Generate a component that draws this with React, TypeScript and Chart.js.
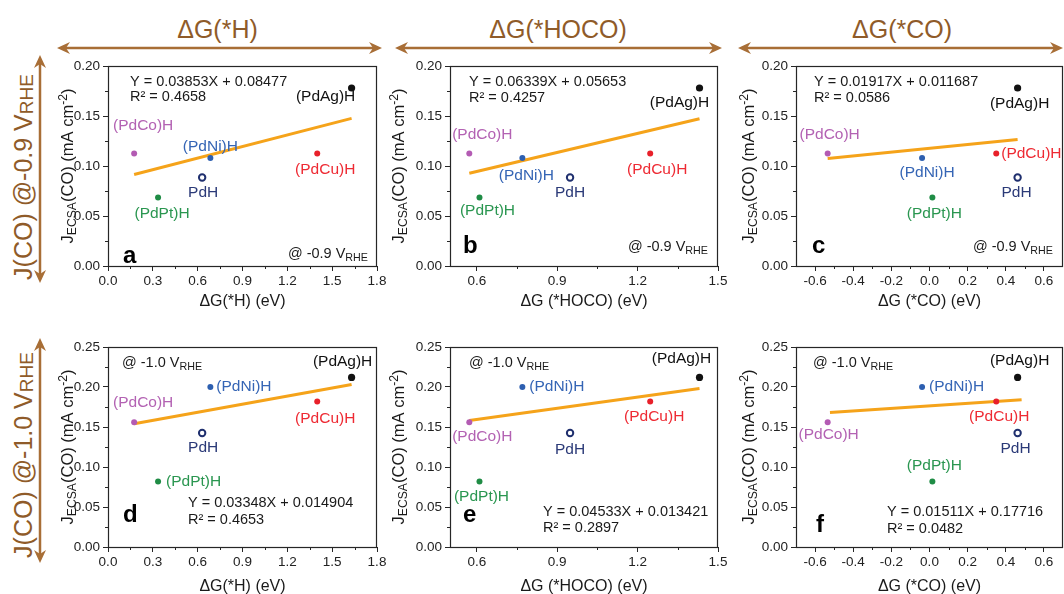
import React, { useEffect, useRef } from "react";
import { Chart, registerables } from "chart.js";
Chart.register(...registerables);

// ---------------- DATA ----------------
const catalysts = ["(PdAg)H", "(PdCo)H", "(PdNi)H", "PdH", "(PdPt)H", "(PdCu)H"];
const dGH = [1.63, 0.175, 0.685, 0.63, 0.335, 1.4];
const dGHOCO = [1.431, 0.572, 0.77, 0.948, 0.61, 1.247];
const dGCO = [0.462, -0.534, -0.039, 0.462, 0.015, 0.35];
const jCO_09 = [0.178, 0.1125, 0.108, 0.0885, 0.0685, 0.1125];
const jCO_10 = [0.212, 0.156, 0.2, 0.1425, 0.082, 0.182];

const fitA_x = [0.175, 1.63];
const fitA_y = [0.0915, 0.1476];
const fitB_x = [0.572, 1.431];
const fitB_y = [0.0928, 0.1472];
const fitC_x = [-0.534, 0.462];
const fitC_y = [0.1075, 0.1265];
const fitD_x = [0.175, 1.63];
const fitD_y = [0.154, 0.203];
const fitE_x = [0.572, 1.431];
const fitE_y = [0.158, 0.198];
const fitF_x = [-0.522, 0.483];
const fitF_y = [0.168, 0.184];

const ticksH = [0, 0.3, 0.6, 0.9, 1.2, 1.5, 1.8];
const minorH = [0.15, 0.45, 0.75, 1.05, 1.35, 1.65];
const ticksHOCO = [0.6, 0.9, 1.2, 1.5];
const minorHOCO = [0.75, 1.05, 1.35];
const ticksCO = [-0.6, -0.4, -0.2, 0, 0.2, 0.4, 0.6];
const minorCO = [-0.5, -0.3, -0.1, 0.1, 0.3, 0.5];
const ticksJ09 = [0, 0.05, 0.1, 0.15, 0.2];
const minorJ09 = [0.025, 0.075, 0.125, 0.175];
const ticksJ10 = [0, 0.05, 0.1, 0.15, 0.2, 0.25];
const minorJ10 = [0.025, 0.075, 0.125, 0.175, 0.225];

const eqA = ["Y = 0.03853X + 0.08477", "R² = 0.4658"];
const eqB = ["Y = 0.06339X + 0.05653", "R² = 0.4257"];
const eqC = ["Y = 0.01917X + 0.011687", "R² = 0.0586"];
const eqD = ["Y = 0.03348X + 0.014904", "R² = 0.4653"];
const eqE = ["Y = 0.04533X + 0.013421", "R² = 0.2897"];
const eqF = ["Y = 0.01511X + 0.17716", "R² = 0.0482"];

const headers = ["ΔG(*H)", "ΔG(*HOCO)", "ΔG(*CO)"];
const xTitles = ["ΔG(*H) (eV)", "ΔG (*HOCO) (eV)", "ΔG (*CO) (eV)"];

// ---------------- STYLE ----------------
const FONT = '"Liberation Sans", Arial, Helvetica, sans-serif';
const AXIS = "#262626";
const BROWN_T = "#8f5b29";
const BROWN_A = "#a86e36";
const FIT = "#f5a31a";
const pointColors = ["#111111", "#b35bb3", "#2d5fb0", "#1f2f6e", "#1f8c45", "#e8202a"];
const labelColors = ["#111111", "#b362b3", "#3565b5", "#2b3a78", "#2a9650", "#ee2a33"];

const PAD_L = 100, PAD_T = 20, PAD_R = 16, PAD_B = 50;

type Seg = { t: string; k?: "sub" | "sup" };
function drawRich(ctx: CanvasRenderingContext2D, segs: Seg[], x: number, y: number, size: number, align: string, color: string) {
  const sub = size * 0.74;
  const widths = segs.map((s) => {
    ctx.font = `${s.k ? sub : size}px ${FONT}`;
    return ctx.measureText(s.t).width;
  });
  const total = widths.reduce((a, b) => a + b, 0);
  let cx = align === "left" ? x : align === "right" ? x - total : x - total / 2;
  const base = y + size * 0.35;
  ctx.fillStyle = color;
  ctx.textAlign = "left";
  ctx.textBaseline = "alphabetic";
  segs.forEach((s, i) => {
    ctx.font = `${s.k ? sub : size}px ${FONT}`;
    const dy = s.k === "sub" ? size * 0.22 : s.k === "sup" ? -size * 0.38 : 0;
    ctx.fillText(s.t, cx, base + dy);
    cx += widths[i];
  });
}

type Lbl = [number, number, string?];
type PanelCfg = {
  left: number; top: number; w: number; h: number;
  xs: number[]; ys: number[]; fitX: number[]; fitY: number[];
  xMin: number; xMax: number; yMax: number;
  xTicks: number[]; xMinor: number[]; yTicks: number[]; yMinor: number[];
  xTitle: string; xTitleDy: number; yTitleDx: number;
  letter: string; letterPos: [number, number];
  eq: string[]; eqPos: [number, number, number]; eqFromBottom: boolean;
  vText: string; vPos: [number, number]; vFromTopLeft: boolean;
  labels: Lbl[];
};

function Panel({ cfg }: { cfg: PanelCfg }) {
  const ref = useRef<HTMLCanvasElement>(null);
  const W = cfg.w + PAD_L + PAD_R;
  const H = cfg.h + PAD_T + PAD_B;
  useEffect(() => {
    const datasets: any[] = catalysts.map((name, i) => ({
      label: name,
      data: [{ x: cfg.xs[i], y: cfg.ys[i] }],
      backgroundColor: i === 3 ? "#ffffff" : pointColors[i],
      borderColor: pointColors[i],
      borderWidth: i === 3 ? 2 : 0,
      pointRadius: i === 0 ? 3.6 : i === 3 ? 3.2 : 3,
      order: 0,
    }));
    datasets.push({
      type: "line",
      label: "fit",
      data: cfg.fitX.map((x, i) => ({ x, y: cfg.fitY[i] })),
      borderColor: FIT,
      borderWidth: 3,
      pointRadius: 0,
      showLine: true,
      fill: false,
      order: 1,
    });
    const annot = {
      id: "annot",
      afterDatasetsDraw(chart: any) {
        const ctx: CanvasRenderingContext2D = chart.ctx;
        const ca = chart.chartArea;
        const sx = chart.scales.x, sy = chart.scales.y;
        ctx.save();
        ctx.strokeStyle = AXIS;
        ctx.lineWidth = 1.2;
        ctx.strokeRect(Math.round(ca.left) + 0.5, Math.round(ca.top) + 0.5, Math.round(ca.right - ca.left) - 1, Math.round(ca.bottom - ca.top));
        ctx.lineWidth = 1;
        ctx.beginPath();
        cfg.xMinor.forEach((v) => {
          const p = Math.round(sx.getPixelForValue(v)) + 0.5;
          ctx.moveTo(p, ca.bottom);
          ctx.lineTo(p, ca.bottom + 3);
        });
        cfg.yMinor.forEach((v) => {
          const p = Math.round(sy.getPixelForValue(v)) + 0.5;
          ctx.moveTo(ca.left, p);
          ctx.lineTo(ca.left - 3, p);
        });
        ctx.stroke();
        // point labels
        ctx.font = `15.5px ${FONT}`;
        ctx.textBaseline = "middle";
        catalysts.forEach((name, i) => {
          const px = sx.getPixelForValue(cfg.xs[i]);
          const py = sy.getPixelForValue(cfg.ys[i]);
          const l = cfg.labels[i];
          ctx.fillStyle = labelColors[i];
          ctx.textAlign = (l[2] as CanvasTextAlign) || "center";
          ctx.fillText(name, px + l[0], py + l[1]);
        });
        // equations
        const ex = ca.left + cfg.eqPos[0];
        const ey1 = cfg.eqFromBottom ? ca.bottom - cfg.eqPos[1] : ca.top + cfg.eqPos[1];
        const ey2 = cfg.eqFromBottom ? ca.bottom - cfg.eqPos[2] : ca.top + cfg.eqPos[2];
        ctx.font = `14.5px ${FONT}`;
        ctx.fillStyle = "#1a1a1a";
        ctx.textAlign = "left";
        ctx.fillText(cfg.eq[0], ex, ey1);
        ctx.fillText(cfg.eq[1], ex, ey2);
        // potential text
        const vSegs: Seg[] = [{ t: `@ ${cfg.vText} V` }, { t: "RHE", k: "sub" }];
        if (cfg.vFromTopLeft) {
          drawRich(ctx, vSegs, ca.left + cfg.vPos[0], ca.top + cfg.vPos[1], 14.5, "left", "#1a1a1a");
        } else {
          drawRich(ctx, vSegs, ca.right - cfg.vPos[0], ca.bottom - cfg.vPos[1], 14.5, "right", "#1a1a1a");
        }
        // panel letter
        ctx.font = `bold 24px ${FONT}`;
        ctx.fillStyle = "#000";
        ctx.textAlign = "left";
        ctx.textBaseline = "alphabetic";
        ctx.fillText(cfg.letter, ca.left + cfg.letterPos[0], ca.bottom - cfg.letterPos[1]);
        // x title
        drawRich(ctx, [{ t: cfg.xTitle }], (ca.left + ca.right) / 2, ca.bottom + cfg.xTitleDy, 16, "center", "#1a1a1a");
        // y title
        ctx.translate(ca.left + cfg.yTitleDx, (ca.top + ca.bottom) / 2);
        ctx.rotate(-Math.PI / 2);
        drawRich(
          ctx,
          [{ t: "J" }, { t: "ECSA", k: "sub" }, { t: "(CO) (mA cm" }, { t: "-2", k: "sup" }, { t: ")" }],
          0, 0, 16.5, "center", "#1a1a1a"
        );
        ctx.restore();
      },
    };
    const tickFont = { family: FONT, size: 13.5 };
    const chart = new Chart(ref.current as HTMLCanvasElement, {
      type: "scatter",
      data: { datasets },
      options: {
        animation: false,
        responsive: false,
        maintainAspectRatio: false,
        layout: { padding: { left: 0, top: PAD_T, right: PAD_R, bottom: 0 } },
        plugins: { legend: { display: false }, tooltip: { enabled: false } },
        scales: {
          x: {
            type: "linear",
            min: cfg.xMin,
            max: cfg.xMax,
            afterFit: (s: any) => { s.height = PAD_B; },
            afterBuildTicks: (s: any) => { s.ticks = cfg.xTicks.map((v) => ({ value: v })); },
            ticks: { callback: (v: any) => Number(v).toFixed(1), font: tickFont, color: "#222", padding: 2, maxRotation: 0, autoSkip: false },
            grid: { display: true, drawOnChartArea: false, drawTicks: true, tickLength: 5, color: AXIS },
            border: { display: false },
          },
          y: {
            type: "linear",
            min: 0,
            max: cfg.yMax,
            afterFit: (s: any) => { s.width = PAD_L; },
            afterBuildTicks: (s: any) => { s.ticks = cfg.yTicks.map((v) => ({ value: v })); },
            ticks: { callback: (v: any) => Number(v).toFixed(2), font: tickFont, color: "#222", padding: 3, autoSkip: false },
            grid: { display: true, drawOnChartArea: false, drawTicks: true, tickLength: 5, color: AXIS },
            border: { display: false },
          },
        },
      } as any,
      plugins: [annot],
    });
    return () => chart.destroy();
  }, []);
  return (
    <canvas
      ref={ref}
      width={W}
      height={H}
      style={{ position: "absolute", left: cfg.left - PAD_L, top: cfg.top - PAD_T, width: W, height: H }}
    />
  );
}

const baseH = { xMin: 0, xMax: 1.8, xTicks: ticksH, xMinor: minorH, xs: dGH, xTitle: xTitles[0], yTitleDx: -41 };
const baseHOCO = { xMin: 0.5, xMax: 1.5, xTicks: ticksHOCO, xMinor: minorHOCO, xs: dGHOCO, xTitle: xTitles[1], yTitleDx: -52 };
const baseCO = { xMin: -0.7, xMax: 0.7, xTicks: ticksCO, xMinor: minorCO, xs: dGCO, xTitle: xTitles[2], yTitleDx: -48 };
const top09 = { top: 66, h: 200, ys: jCO_09, yMax: 0.2, yTicks: ticksJ09, yMinor: minorJ09, xTitleDy: 34, vText: "-0.9", vFromTopLeft: false, eqFromBottom: false };
const bot10 = { top: 347, h: 200, ys: jCO_10, yMax: 0.25, yTicks: ticksJ10, yMinor: minorJ10, xTitleDy: 38, vText: "-1.0", vFromTopLeft: true, eqFromBottom: true };

const panels: PanelCfg[] = [
  {
    ...baseH, ...top09, left: 108, w: 269, fitX: fitA_x, fitY: fitA_y, letter: "a", letterPos: [15, 3],
    eq: eqA, eqPos: [22, 16, 31], vPos: [9, 13],
    labels: [[-26, 9], [9, -28], [0, -11], [1, 15], [4, 16], [8, 16]],
  },
  {
    ...baseHOCO, ...top09, left: 450, w: 268, fitX: fitB_x, fitY: fitB_y, letter: "b", letterPos: [13, 13],
    eq: eqB, eqPos: [19, 16, 32], vPos: [10, 20],
    labels: [[-20, 15], [13, -19], [4, 18], [0, 15], [8, 13], [7, 16]],
  },
  {
    ...baseCO, ...top09, left: 796, w: 267, fitX: fitC_x, fitY: fitC_y, letter: "c", letterPos: [16, 13],
    eq: eqC, eqPos: [18, 16, 32], vPos: [10, 20],
    labels: [[2, 16], [2, -19], [5, 15], [-1, 15], [2, 16], [5, 0, "left"]],
  },
  {
    ...baseH, ...bot10, left: 108, w: 269, fitX: fitD_x, fitY: fitD_y, letter: "d", letterPos: [15, 25],
    eq: eqD, eqPos: [80, 44, 27], vPos: [14, 15],
    labels: [[-9, -16], [9, -19], [6, 0, "left"], [1, 15], [8, 0, "left"], [8, 17]],
  },
  {
    ...baseHOCO, ...bot10, left: 450, w: 268, fitX: fitE_x, fitY: fitE_y, letter: "e", letterPos: [13, 25],
    eq: eqE, eqPos: [93, 35, 19], vPos: [19, 15],
    labels: [[-18, -19], [13, 15], [7, 0, "left"], [0, 17], [2, 15], [4, 15]],
  },
  {
    ...baseCO, ...bot10, left: 796, w: 267, fitX: fitF_x, fitY: fitF_y, letter: "f", letterPos: [20, 15],
    eq: eqF, eqPos: [91, 35, 18], vPos: [17, 15],
    labels: [[2, -17], [1, 13], [7, 0, "left"], [-2, 16], [2, -16], [3, 15]],
  },
];

function HArrow({ x1, x2, y }: { x1: number; x2: number; y: number }) {
  return (
    <g fill={BROWN_A} stroke="none">
      <line x1={x1 + 6} y1={y} x2={x2 - 6} y2={y} stroke={BROWN_A} strokeWidth={2.5} />
      <path d={`M ${x1} ${y} L ${x1 + 13} ${y - 6} L ${x1 + 9} ${y} L ${x1 + 13} ${y + 6} Z`} />
      <path d={`M ${x2} ${y} L ${x2 - 13} ${y - 6} L ${x2 - 9} ${y} L ${x2 - 13} ${y + 6} Z`} />
    </g>
  );
}
function VArrow({ x, y1, y2 }: { x: number; y1: number; y2: number }) {
  return (
    <g fill={BROWN_A} stroke="none">
      <line x1={x} y1={y1 + 6} x2={x} y2={y2 - 6} stroke={BROWN_A} strokeWidth={2.5} />
      <path d={`M ${x} ${y1} L ${x - 6} ${y1 + 13} L ${x} ${y1 + 9} L ${x + 6} ${y1 + 13} Z`} />
      <path d={`M ${x} ${y2} L ${x - 6} ${y2 - 13} L ${x} ${y2 - 9} L ${x + 6} ${y2 - 13} Z`} />
    </g>
  );
}

export default function App() {
  return (
    <div style={{ position: "fixed", left: 0, top: 0, width: 1064, height: 594, overflow: "hidden", background: "#fff" }}>
      <svg width={1064} height={594} style={{ position: "absolute", left: 0, top: 0 }}>
        <HArrow x1={57} x2={382} y={48} />
        <HArrow x1={395} x2={722} y={48} />
        <HArrow x1={738} x2={1063} y={48} />
        <VArrow x={40} y1={55} y2={283} />
        <VArrow x={40} y1={338} y2={563} />
        <g fontFamily={FONT} fontSize={25} fill={BROWN_T} textAnchor="middle">
          <text x={217.5} y={38}>{headers[0]}</text>
          <text x={558} y={38}>{headers[1]}</text>
          <text x={902} y={38}>{headers[2]}</text>
          <text transform="translate(32,177) rotate(-90)">
            J(CO) @-0.9 V<tspan fontSize={19} dy={1}>RHE</tspan>
          </text>
          <text transform="translate(32,455) rotate(-90)">
            J(CO) @-1.0 V<tspan fontSize={19} dy={1}>RHE</tspan>
          </text>
        </g>
      </svg>
      {panels.map((p, i) => (
        <Panel key={i} cfg={p} />
      ))}
    </div>
  );
}
